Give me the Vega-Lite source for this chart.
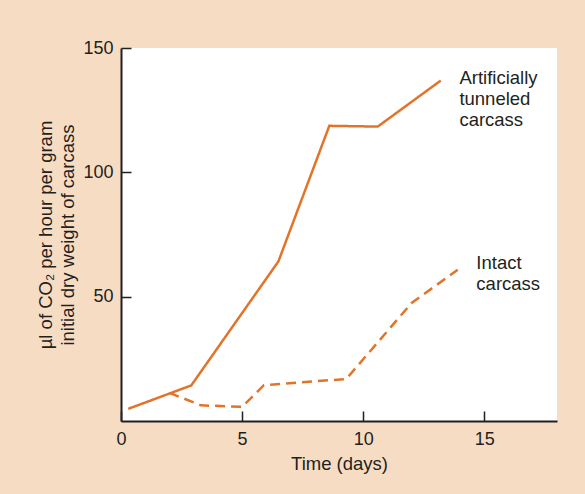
{
  "$schema": "https://vega.github.io/schema/vega-lite/v6.json",
  "width": 436,
  "height": 373,
  "autosize": {"type": "none"},
  "padding": {"left": 121, "top": 48, "right": 28, "bottom": 73},
  "background": "#f7dcc4",
  "config": {
    "view": {"fill": "white", "stroke": null},
    "font": "Liberation Sans",
    "axis": {
      "domainColor": "#231f20",
      "domainWidth": 2,
      "tickColor": "#231f20",
      "tickWidth": 1.5,
      "tickSize": -10,
      "grid": false,
      "labelFlush": false,
      "labelFont": "Liberation Sans",
      "labelFontSize": 18,
      "labelColor": "#231f20",
      "titleFont": "Liberation Sans",
      "titleFontSize": 18.5,
      "titleFontWeight": "normal",
      "titleColor": "#231f20"
    }
  },
  "datasets": {
    "lines": [
      {"series": "Artificially tunneled carcass", "time": 0.3, "co2": 4.9},
      {"series": "Artificially tunneled carcass", "time": 2.9, "co2": 14.3},
      {"series": "Artificially tunneled carcass", "time": 6.5, "co2": 64.2},
      {"series": "Artificially tunneled carcass", "time": 8.6, "co2": 118.7},
      {"series": "Artificially tunneled carcass", "time": 10.6, "co2": 118.4},
      {"series": "Artificially tunneled carcass", "time": 13.2, "co2": 136.9},
      {"series": "Intact carcass", "time": 2.0, "co2": 11.3},
      {"series": "Intact carcass", "time": 3.3, "co2": 6.3},
      {"series": "Intact carcass", "time": 5.0, "co2": 5.7},
      {"series": "Intact carcass", "time": 5.9, "co2": 14.4},
      {"series": "Intact carcass", "time": 9.3, "co2": 16.9},
      {"series": "Intact carcass", "time": 12.0, "co2": 47.5},
      {"series": "Intact carcass", "time": 13.9, "co2": 60.8}
    ],
    "labels": [
      {"label": "Artificially\ntunneled\ncarcass", "time": 13.97, "co2": 135.5},
      {"label": "Intact\ncarcass", "time": 14.67, "co2": 61.2}
    ]
  },
  "layer": [
    {
      "data": {"name": "lines"},
      "mark": {"type": "line", "strokeWidth": 2.5, "color": "#e2742a"},
      "encoding": {
        "x": {
          "field": "time", "type": "quantitative",
          "scale": {"domain": [0, 18], "nice": false},
          "axis": {"values": [0, 5, 10, 15], "title": "Time (days)", "labelPadding": 19, "titlePadding": 6}
        },
        "y": {
          "field": "co2", "type": "quantitative",
          "scale": {"domain": [0, 150], "nice": false},
          "axis": {
            "values": [50, 100, 150],
            "title": ["µl of CO₂ per hour per gram", "initial dry weight of carcass"],
            "titleLineHeight": 22,
            "labelPadding": 18,
            "titlePadding": 5
          }
        },
        "detail": {"field": "series"},
        "strokeDash": {
          "field": "series", "type": "nominal",
          "scale": {"domain": ["Artificially tunneled carcass", "Intact carcass"], "range": [[1, 0], [10, 6]]},
          "legend": null
        }
      }
    },
    {
      "data": {"name": "labels"},
      "mark": {"type": "text", "align": "left", "baseline": "alphabetic", "lineBreak": "\n", "lineHeight": 21, "fontSize": 18.5, "font": "Liberation Sans", "color": "#231f20"},
      "encoding": {
        "x": {"field": "time", "type": "quantitative"},
        "y": {"field": "co2", "type": "quantitative"},
        "text": {"field": "label"}
      }
    }
  ]
}
